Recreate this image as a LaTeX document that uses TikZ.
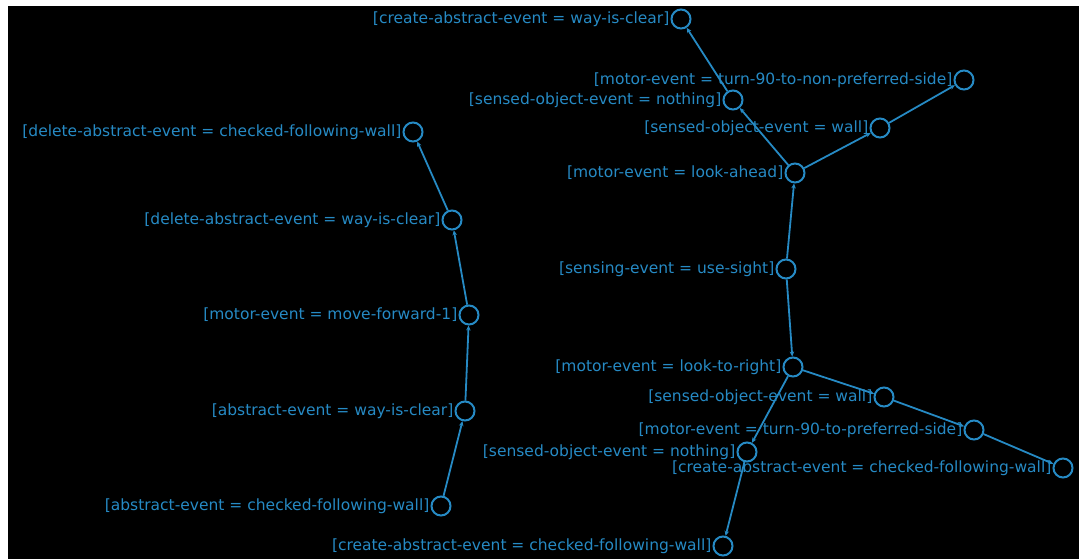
\documentclass[tikz,border=0pt]{standalone}
\usepackage{fontspec}
\setmainfont{DejaVu Sans}
\usetikzlibrary{arrows.meta}
\definecolor{eb}{RGB}{38,138,196}
\tikzset{
  ev/.style={circle,draw=eb,line width=2pt,minimum size=19pt,inner sep=0pt},
  lab/.style={text=eb,font=\fontsize{15.5}{17}\selectfont,inner sep=1pt,label distance=0pt},
  arr/.style={draw=eb,line width=1.8pt,-{Stealth[length=5pt,width=4.5pt]}}
}
\begin{document}
\begin{tikzpicture}[x=1pt,y=-1pt]
\useasboundingbox (0,0) rectangle (1079,559);
\fill[white] (0,0) rectangle (1079,559);
\fill[black] (8,6) rectangle (1079,559);
% left chain
\node[ev,label={[lab]left:[abstract-event = checked-following-wall]}] (a1) at (441,506) {};
\node[ev,label={[lab]left:[abstract-event = way-is-clear]}] (a2) at (465,411) {};
\node[ev,label={[lab]left:[motor-event = move-forward-1]}] (a3) at (469,315) {};
\node[ev,label={[lab]left:[delete-abstract-event = way-is-clear]}] (a4) at (452,220) {};
\node[ev,label={[lab]left:[delete-abstract-event = checked-following-wall]}] (a5) at (413,132) {};
% right tree
\node[ev,label={[lab]left:[sensing-event = use-sight]}] (s) at (786,269) {};
\node[ev,label={[lab]left:[motor-event = look-ahead]}] (la) at (795,173) {};
\node[ev,label={[lab]left:[sensed-object-event = nothing]}] (n1) at (733,100) {};
\node[ev,label={[lab]left:[create-abstract-event = way-is-clear]}] (cw) at (681,19) {};
\node[ev,label={[lab]left:[sensed-object-event = wall]}] (w1) at (880,128) {};
\node[ev,label={[lab]left:[motor-event = turn-90-to-non-preferred-side]}] (t1) at (964,80) {};
\node[ev,label={[lab]left:[motor-event = look-to-right]}] (lr) at (793,367) {};
\node[ev,label={[lab]left:[sensed-object-event = wall]}] (w2) at (884,397) {};
\node[ev,label={[lab]left:[motor-event = turn-90-to-preferred-side]}] (t2) at (974,430) {};
\node[ev,label={[lab]left:[create-abstract-event = checked-following-wall]}] (c2) at (1063,468) {};
\node[ev,label={[lab]left:[sensed-object-event = nothing]}] (n2) at (747,452) {};
\node[ev,label={[lab]left:[create-abstract-event = checked-following-wall]}] (c3) at (723,546) {};
% connectors
\draw[arr] (a1) -- (a2);
\draw[arr] (a2) -- (a3);
\draw[arr] (a3) -- (a4);
\draw[arr] (a4) -- (a5);
\draw[arr] (s) -- (la);
\draw[arr] (la) -- (n1);
\draw[arr] (n1) -- (cw);
\draw[arr] (la) -- (w1);
\draw[arr] (w1) -- (t1);
\draw[arr] (s) -- (lr);
\draw[arr] (lr) -- (w2);
\draw[arr] (w2) -- (t2);
\draw[arr] (t2) -- (c2);
\draw[arr] (lr) -- (n2);
\draw[arr] (n2) -- (c3);
\end{tikzpicture}
\end{document}
